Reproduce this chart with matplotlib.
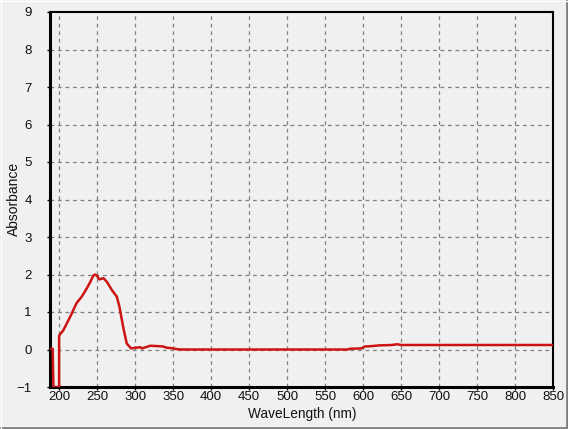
import matplotlib
matplotlib.use("Agg")
import matplotlib.pyplot as plt
from matplotlib.lines import Line2D

wavelength = [190.0, 191.5, 192.5, 200.0, 200.0, 205.7, 214.5, 223.0, 229.8, 236.4,
              241.0, 245.0, 247.0, 249.6, 253.0, 258.3, 262.7, 269.3, 275.9, 279.4,
              284.6, 289.0, 294.7, 302.0, 307.0, 309.0, 314.0, 319.7, 330.0, 337.0,
              341.0, 350.0, 355.0, 360.0, 580.0, 583.0, 598.0, 602.0, 611.0, 622.0,
              638.0, 645.0, 650.0, 850.0]
absorbance = [0.02, 0.02, -1.0, -1.0, 0.37, 0.52, 0.87, 1.24, 1.41, 1.63,
              1.80, 1.97, 2.00, 1.97, 1.87, 1.90, 1.81, 1.59, 1.41, 1.14,
              0.57, 0.16, 0.03, 0.05, 0.06, 0.03, 0.06, 0.10, 0.09, 0.08,
              0.05, 0.03, 0.01, 0.0, 0.0, 0.02, 0.03, 0.08, 0.09, 0.11,
              0.12, 0.14, 0.12, 0.12]

x_ticks = [200, 250, 300, 350, 400, 450, 500, 550, 600, 650, 700, 750, 800, 850]
y_ticks = [-1, 0, 1, 2, 3, 4, 5, 6, 7, 8, 9]

bg = "#F0F0F0"
plt.rcParams['font.family'] = ['Liberation Sans', 'DejaVu Sans']

fig = plt.figure(figsize=(5.68, 4.29), dpi=100, facecolor=bg)
ax = fig.add_axes([50/568, 42/429, 503/568, 375/429])
ax.set_facecolor(bg)

ax.plot(wavelength, absorbance, color="#CC1414", lw=1.8, solid_joinstyle='round', zorder=3)

ax.set_xlim(188, 850)
ax.set_ylim(-1, 9)
ax.set_xticks(x_ticks)
ax.set_yticks(y_ticks)
ax.tick_params(axis='both', labelsize=9.5, length=2, width=1, color='black', labelcolor='#111111')
ax.tick_params(axis='y', pad=11)
ax.tick_params(axis='x', pad=1)

for v in x_ticks[:-1]:
    ax.axvline(v, color='#808080', lw=0.9, ls=(0, (3, 3)), zorder=1)
for v in y_ticks[1:-1]:
    ax.axhline(v, color='#808080', lw=0.9, ls=(0, (3, 3)), zorder=1)

ax.spines['left'].set_linewidth(2.2)
ax.spines['bottom'].set_linewidth(2.2)
ax.spines['top'].set_linewidth(1.5)
ax.spines['right'].set_linewidth(1.5)
for s in ax.spines.values():
    s.set_color('black')

ax.set_xlabel("WaveLength (nm)", fontsize=9.8, color='#111111')
ax.set_ylabel("Absorbance", fontsize=10, color='#111111')
ax.xaxis.set_label_coords((302 - 50) / 503, (387 - 414) / 375)
ax.yaxis.set_label_coords((14 - 50) / 503, (387 - 199) / 375)
ax.xaxis.label.set_va('center')
ax.yaxis.label.set_va('center')

# window frame bevel
fig.add_artist(Line2D([0, 1], [1/429, 1/429], transform=fig.transFigure, color='#808080', lw=2))
fig.add_artist(Line2D([1 - 1/568, 1 - 1/568], [0, 1], transform=fig.transFigure, color='#808080', lw=2))
fig.add_artist(Line2D([0, 1], [1 - 0.5/429, 1 - 0.5/429], transform=fig.transFigure, color='#FFFFFF', lw=1))
fig.add_artist(Line2D([0.5/568, 0.5/568], [0, 1], transform=fig.transFigure, color='#FFFFFF', lw=1))

fig.savefig("out.png", dpi=100, facecolor=bg)
